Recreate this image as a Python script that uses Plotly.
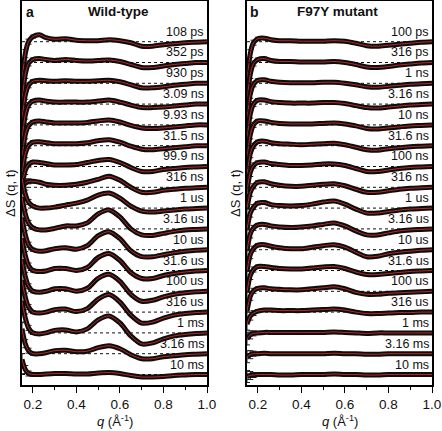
import plotly.graph_objects as go

# ---------------- data ----------------
q = [0.15, 0.165, 0.18, 0.2, 0.23, 0.26, 0.3, 0.35, 0.4, 0.45, 0.5,
     0.55, 0.6, 0.65, 0.7, 0.75, 0.8, 0.85, 0.9, 0.95, 1.0]

# error bar half-widths (larger at low q)
err = [6, 4, 2.5, 1.5, 1, 0, 0, 0, 0, 0, 0, 0, 0, 0, 0, 0, 0, 0, 0, 0, 0]

labels_wt = ["108 ps", "352 ps", "930 ps", "3.09 ns", "9.93 ns", "31.5 ns", "99.9 ns",
             "316 ns", "1 us", "3.16 us", "10 us", "31.6 us", "100 us", "316 us",
             "1 ms", "3.16 ms", "10 ms"]
labels_mut = ["100 ps", "316 ps", "1 ns", "3.16 ns", "10 ns", "31.6 ns", "100 ns",
              "316 ns", "1 us", "3.16 us", "10 us", "31.6 us", "100 us", "316 us",
              "1 ms", "3.16 ms", "10 ms"]

# Wild-type difference curves (arbitrary units)
wt_108ps = [-40, -12, 0, 5, 7, 4, 2.5, 3, 1.5, 1, 1, 2, 1, -1, -4.5, -4.5, -3, -2, -1, -0.5, 0]
wt_352ps = [-40, -12, -1, 3, 4, 3, 2, 3, 2, 1.5, 2, 2.5, 1, -2, -5, -5, -3.5, -2, -1, 0, 0]
wt_930ps = [-38, -12, -2, 2, 3, 2.5, 2, 2.5, 2, 2, 2.5, 3, 1.5, -1.5, -4.5, -4.5, -3.5, -2, -1, 0, 0]
wt_3ns = [-36, -11, -1, 3, 4, 3, 2, 2, 2, 2, 3, 4, 2, -1, -3.5, -3.5, -3, -2, -1, 0, 0]
wt_10ns = [-34, -10, -1, 3, 4, 3, 2, 2, 2, 2.5, 4, 5, 3, -0.5, -3, -3.5, -3, -2, -1, 0, 0]
wt_31ns = [-30, -8, 0, 3.5, 4, 3, 2, 2, 2, 3, 5, 6, 3.5, -0.5, -3.5, -4, -3, -2, -1, 0, 0]
wt_100ns = [-20, -4, 2, 4.5, 4, 3, 1.5, 1.5, 2, 4, 6, 7, 4, -1, -5, -5, -3, -2, -1, -0.5, 0]
wt_316ns = [0, 4, 6, 6, 5, 3, 2, 2, 3, 5, 8, 11, 7, 0, -5, -5, -3, -2, -1, -0.5, 0]
wt_1us = [30, 14, 6, 2, 0, 0, 1, 3, 5, 8, 13, 15, 10, 2, -3, -4, -3, -2, -1, -0.5, 0]
wt_3us = [32, 15, 6, 1, -1, -1, 0.5, 3, 3, 6, 15, 19, 12, 0, -6, -6.5, -4.5, -2.5, -1, -0.5, 0]
wt_10us = [32, 15, 5, 0, -1.5, -1, 1, 2, 0.5, 4, 14, 18, 11, -1, -7, -7, -5, -3, -1.5, -0.5, 0]
wt_31us = [32, 15, 5, 0, -1, -0.5, 2, 2, 0, 3, 13, 17, 10, -2, -8, -8, -5, -3, -1.5, -0.5, 0]
wt_100us = [32, 15, 5, 0, -1, 0, 2.5, 2.5, 0, 3, 13, 17, 10, -3, -10, -9, -5.5, -3, -1.5, -0.5, 0]
wt_316us = [32, 15, 5, 0, -1, 0, 2.5, 3, 0.5, 3.5, 13, 17.5, 10, -3, -11, -10, -6, -3, -1.5, -0.5, 0]
wt_1ms = [32, 15, 5, 0, -1, 0, 2.5, 3, 1, 4, 13, 17, 10, -3, -11, -10, -6, -3, -1.5, -0.5, 0]
wt_3ms = [25, 10, 3, 0, 0, 1, 3, 3.5, 2, 2.5, 6, 8, 5, -1, -5, -5, -3, -2, -1, -0.5, 0]
wt_10ms = [15, 5, 1, 0, 0, 0.5, 1, 1, 0.5, 0.5, 1.5, 2, 1, -1, -2.5, -2.5, -2, -1, -0.5, 0, 0]

# F97Y mutant difference curves (arbitrary units)
mut_100ps = [-40, -12, -1, 3, 3.5, 2, 1, 1, 0.5, 0.5, 0.5, 1, 0.5, -1.5, -4, -4.5, -3.5, -2.5, -1.5, -0.5, 0]
mut_316ps = [-40, -12, -1, 3, 4, 2, 1, 1, 0.5, 0.5, 0.5, 1, 0, -2, -4.5, -5, -4, -2.5, -1.5, -0.5, 0]
mut_1ns = [-38, -11, -1, 3, 3.5, 2, 1, 0.5, 0.5, 0.5, 1, 1, 0, -1.5, -3.5, -4, -3, -2, -1, -0.5, 0]
mut_3ns = [-36, -10, 0, 4, 4, 2.5, 1.5, 1, 1, 1, 1.5, 1.5, 0.5, -1.5, -3.5, -4, -3, -2, -1, -0.5, 0]
mut_10ns = [-34, -10, 0, 4, 4, 2.5, 1.5, 1, 1, 1, 1.5, 2, 1, -1, -3.5, -4, -3, -2, -1, -0.5, 0]
mut_31ns = [-30, -8, 0, 4, 4.5, 3, 2, 1.5, 1, 1.5, 2, 2.5, 1, -1.5, -4, -4.5, -3, -2, -1, -0.5, 0]
mut_100ns = [-25, -6, 1, 4, 4.5, 3, 2, 1, 1, 1.5, 2.5, 2.5, 1, -2, -5, -5, -3.5, -2, -1, -0.5, 0]
mut_316ns = [-22, -5, 1, 5, 5.5, 3.5, 2, 1, 1, 2, 3, 3.5, 1.5, -2, -5, -5, -3.5, -2, -1, -0.5, 0]
mut_1us = [-22, -5, 1, 5, 5.5, 3.5, 2.5, 2, 2.5, 4, 6, 7, 4, -1, -5, -5, -3.5, -2, -1, -0.5, 0]
mut_3us = [-22, -5, 1, 4, 4.5, 3, 2, 1.5, 2, 3, 4.5, 6, 3, -2, -6, -6, -4, -2, -1, -0.5, 0]
mut_10us = [-22, -5, 1, 4.5, 5, 3.5, 2, 1, 1, 2.5, 4, 5, 2.5, -2.5, -7, -6.5, -4, -2.5, -1.5, -0.5, 0]
mut_31us = [-22, -5, 1, 4, 4, 3, 2, 1.5, 1.5, 2.5, 3.5, 4, 2, -1.5, -4, -4, -3, -2, -1, -0.5, 0]
mut_100us = [-20, -5, 0.5, 3, 3.5, 2.5, 2, 1.5, 1.5, 2.5, 3.5, 4.5, 2.5, -1, -3, -3, -2, -1.5, -1, -0.5, 0]
mut_316us = [-12, -4, -1, 1, 2, 2, 1.5, 1.5, 1.5, 2, 2.5, 3, 2, 0, -1.5, -1.5, -1, -0.5, -0.5, 0, 0]
mut_1ms = [-6, -2, -0.5, 0, 0.5, 0.5, 0.5, 0.5, 0.5, 0.5, 0.5, 1, 0.5, 0, -0.5, 0, 0, 0, 0, 0, 0]
mut_3ms = [-3, -1, 0, 0, 0.5, 0, 0, 0, 0, 0, 0, 0.5, 0, 0, -0.5, -0.5, 0, 0, 0, 0, 0]
mut_10ms = [-2, -1, -0.5, 0, 0, 0, -0.5, -0.5, 0, 0, 0, 0.5, 0, 0, -0.5, -0.5, 0, 0, 0, 0, 0]

wt_curves = [wt_108ps, wt_352ps, wt_930ps, wt_3ns, wt_10ns, wt_31ns, wt_100ns, wt_316ns,
             wt_1us, wt_3us, wt_10us, wt_31us, wt_100us, wt_316us, wt_1ms, wt_3ms, wt_10ms]
mut_curves = [mut_100ps, mut_316ps, mut_1ns, mut_3ns, mut_10ns, mut_31ns, mut_100ns, mut_316ns,
              mut_1us, mut_3us, mut_10us, mut_31us, mut_100us, mut_316us, mut_1ms, mut_3ms, mut_10ms]

x_ticks = [0.2, 0.4, 0.6, 0.8, 1.0]
x_ticklabels = ["0.2", "0.4", "0.6", "0.8", "1.0"]

# ---------------- figure ----------------
W, H = 442, 431
SPACING = 20.8
N = len(wt_curves)
FONT = "Arial, Liberation Sans, sans-serif"
RED = "#d42a22"

fig = go.Figure()

panels = [
    ("x", "y", wt_curves, labels_wt),
    ("x2", "y2", mut_curves, labels_mut),
]

for xa, ya, curves, labs in panels:
    for i, c in enumerate(curves):
        off = (N - 1 - i) * SPACING
        yv = [v + off for v in c]
        fig.add_trace(go.Scatter(x=[q[0], q[-1]], y=[off, off], mode="lines",
                                 line=dict(color="#111", width=1, dash="dot"),
                                 xaxis=xa, yaxis=ya, showlegend=False, hoverinfo="skip"))
        fig.add_trace(go.Scatter(x=q, y=yv, mode="lines",
                                 line=dict(color="#0d0d0d", width=5, shape="spline", smoothing=0.8),
                                 error_y=dict(type="data", array=err, visible=True,
                                              color="#222", thickness=1, width=3),
                                 xaxis=xa, yaxis=ya, showlegend=False, hoverinfo="skip"))
        fig.add_trace(go.Scatter(x=q, y=yv, mode="lines",
                                 line=dict(color=RED, width=0.9, shape="spline", smoothing=0.8),
                                 xaxis=xa, yaxis=ya, showlegend=False, hoverinfo="skip"))
        fig.add_annotation(x=1.0, y=off + 1.0, xref=xa, yref=ya, text=labs[i],
                           xanchor="right", yanchor="bottom", showarrow=False, xshift=-1,
                           font=dict(family=FONT, size=12.5, color="#111"))

def px_x(p):
    return p / W

def px_y(p):
    return 1 - p / H

ax_common = dict(range=[0.15, 1.0], tickvals=x_ticks, ticktext=x_ticklabels,
                 ticks="outside", ticklen=6, tickwidth=1.3, tickcolor="black",
                 showline=True, linecolor="black", linewidth=1.5, mirror=True,
                 showgrid=False, zeroline=False,
                 tickfont=dict(family=FONT, size=13.5, color="#111"),
                 minor=dict(ticks="outside", ticklen=3, tickwidth=1.2, tickcolor="black",
                            tickvals=[0.3, 0.5, 0.7, 0.9]),
                 automargin=False)
yrange = [-(385 - (41.7 + 16 * SPACING)), (41.7 + 16 * SPACING) - 1]
ay_common = dict(range=yrange, showticklabels=False, ticks="", showline=True,
                 linecolor="black", linewidth=1.5, mirror=True, showgrid=False,
                 zeroline=False, automargin=False)

fig.update_layout(
    width=W, height=H,
    margin=dict(l=0, r=0, t=0, b=0),
    paper_bgcolor="white", plot_bgcolor="white",
    xaxis=dict(domain=[px_x(22), px_x(207)], anchor="y", **ax_common),
    yaxis=dict(domain=[px_y(385), px_y(1)], anchor="x", **ay_common),
    xaxis2=dict(domain=[px_x(247), px_x(432)], anchor="y2", **ax_common),
    yaxis2=dict(domain=[px_y(385), px_y(1)], anchor="x2", **ay_common),
)

# panel letters and titles
for xl, xt, letter, title in [(30, 118, "a", "Wild-type"), (255, 337, "b", "F97Y mutant")]:
    fig.add_annotation(x=px_x(xl), y=px_y(12), xref="paper", yref="paper", text="<b>%s</b>" % letter,
                       showarrow=False, xanchor="center", yanchor="middle",
                       font=dict(family=FONT, size=14, color="#111"))
    fig.add_annotation(x=px_x(xt), y=px_y(12), xref="paper", yref="paper", text="<b>%s</b>" % title,
                       showarrow=False, xanchor="center", yanchor="middle",
                       font=dict(family=FONT, size=13.5, color="#111"))

# axis titles
for xc in [114.5, 339.5]:
    fig.add_annotation(x=px_x(xc), y=px_y(421), xref="paper", yref="paper",
                       text="<i>q</i> (Å<sup>-1</sup>)", showarrow=False,
                       xanchor="center", yanchor="middle",
                       font=dict(family=FONT, size=13, color="#111"))
for xc in [11, 236]:
    fig.add_annotation(x=px_x(xc), y=px_y(193), xref="paper", yref="paper",
                       text="ΔS (q, t)", showarrow=False, textangle=-90,
                       xanchor="center", yanchor="middle",
                       font=dict(family=FONT, size=13, color="#111"))

fig.write_html("out.html", config={"displayModeBar": False},
               post_script="document.body.style.margin='0';document.body.style.padding='0';"
                           "document.documentElement.style.overflow='hidden';")
